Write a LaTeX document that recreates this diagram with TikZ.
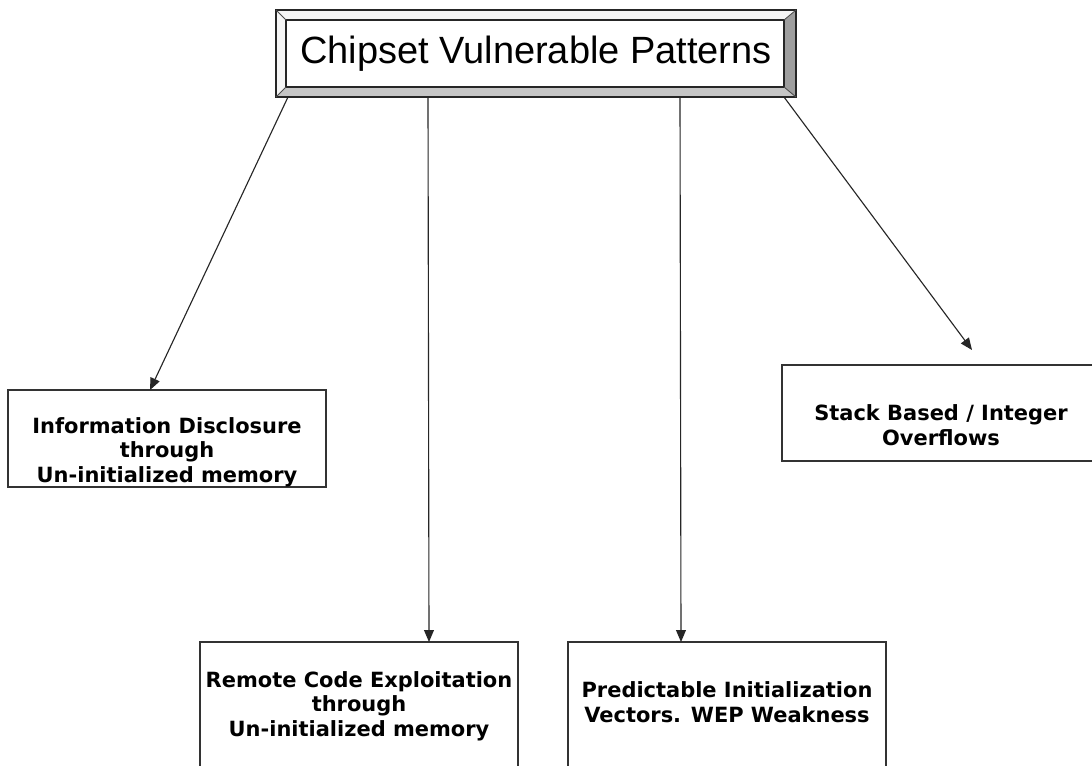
\documentclass[tikz,border=0pt]{standalone}
\usepackage{fontspec}
\setmainfont{DejaVu Sans}
\newfontfamily\titlefont{Liberation Sans}
\usetikzlibrary{calc}
\usetikzlibrary{arrows.meta}
\newdimen\px
\px=0.025cm
\definecolor{bevellight}{HTML}{F6F6F6}
\definecolor{bevelmid}{HTML}{C6C6C6}
\definecolor{beveldark}{HTML}{9E9E9E}
\tikzset{
	headbox/.style={rectangle, draw=black!85, line width=1.1pt, fill=white, outer sep=0pt, inner sep=0pt, minimum width=520\px, minimum height=87\px, font=\titlefont\fontsize{27}{32}\selectfont},
	vulnbox/.style={rectangle, draw=black!80, line width=1.1pt, fill=white, outer sep=0pt, inner sep=0pt, minimum width=318\px, anchor=north west, align=center, font=\bfseries\fontsize{14.9}{17.4}\selectfont},
	arrow/.style={draw=black!85, -{Triangle[length=8.5pt, width=7pt]}, line width=0.8pt}
}
\begin{document}
\begin{tikzpicture}[x=0.025cm, y=-0.025cm]

\clip (0,0) rectangle (1092,765);
\fill[white] (0,0) rectangle (1092,765);

% title with bevelled frame
\node[headbox] (title) at (536,53.5) {Chipset Vulnerable Patterns};
\fill[bevellight] (title.north west) -- (title.north east) -- ([shift={(-12,10)}]title.north east) -- ([shift={(10,10)}]title.north west) -- cycle;
\fill[bevellight] (title.north west) -- ([shift={(10,10)}]title.north west) -- ([shift={(10,-10)}]title.south west) -- (title.south west) -- cycle;
\fill[bevelmid] (title.south west) -- ([shift={(10,-10)}]title.south west) -- ([shift={(-12,-10)}]title.south east) -- (title.south east) -- cycle;
\fill[beveldark] (title.north east) -- ([shift={(-12,10)}]title.north east) -- ([shift={(-12,-10)}]title.south east) -- (title.south east) -- cycle;
\draw[black!85, line width=1.1pt] (title.north west) rectangle (title.south east);
\draw[black!85, line width=1pt] ([shift={(10,10)}]title.north west) rectangle ([shift={(-12,-10)}]title.south east);
\draw[black!70, line width=0.6pt] (title.north west) -- ([shift={(10,10)}]title.north west)
	(title.north east) -- ([shift={(-12,10)}]title.north east)
	(title.south west) -- ([shift={(10,-10)}]title.south west)
	(title.south east) -- ([shift={(-12,-10)}]title.south east);

\node[vulnbox, text height=92\px, text depth=5\px] (info) at (8,390)
	{Information Disclosure\\through\\Un-initialized memory};

\node[vulnbox, text height=94\px, text depth=46\px] (remote) at (200,642)
	{Remote Code Exploitation\\through\\Un-initialized memory};

\node[vulnbox, text height=80\px, text depth=60\px] (predict) at (568,642)
	{Predictable Initialization\\Vectors. WEP Weakness};

\node[vulnbox, text height=80\px, text depth=16\px] (stack) at (782,365)
	{Stack Based / Integer\\Overflows};

\draw [arrow] ([shift={(12,0)}]title.south west) -- ([shift={(-17,0)}]info.north);
\draw [arrow] ([shift={(152,0)}]title.south west) -- ([shift={(70,0)}]remote.north);
\draw [arrow] ([shift={(404,0)}]title.south west) -- ([shift={(-46,0)}]predict.north);
\draw [arrow] ([shift={(-12,0)}]title.south east) -- ([shift={(31,-15)}]stack.north);

\end{tikzpicture}
\end{document}
